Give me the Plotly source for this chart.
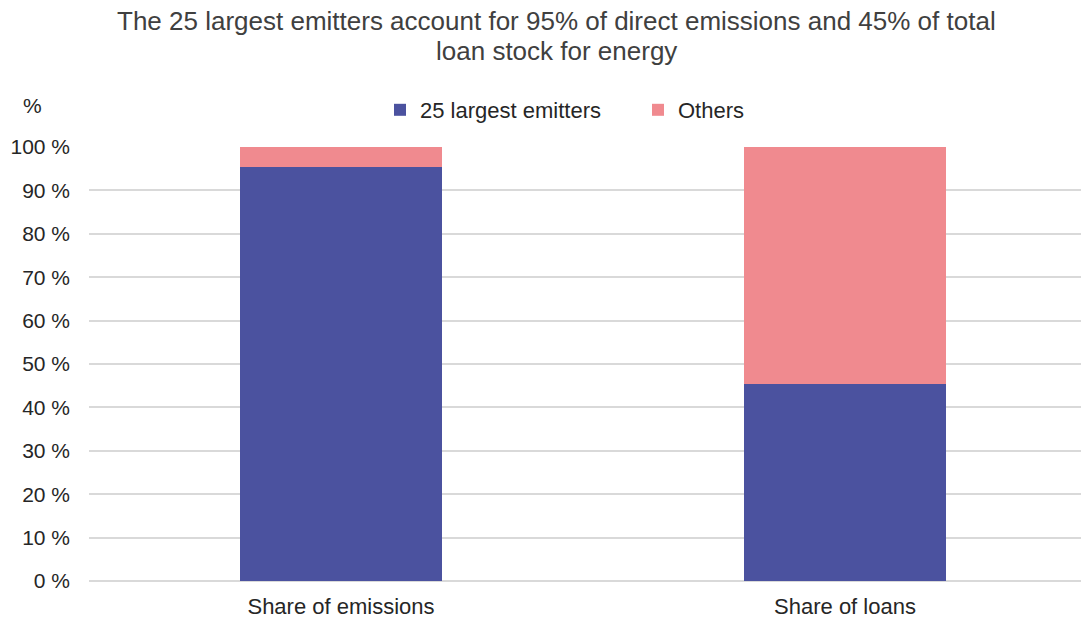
import plotly.graph_objects as go

categories = ["Share of emissions", "Share of loans"]
largest = [95.3, 45.5]
others = [4.7, 54.5]
tick_vals = [0, 10, 20, 30, 40, 50, 60, 70, 80, 90, 100]
tick_text = [f"{v} %" for v in tick_vals]
title_lines = ["The 25 largest emitters account for 95% of direct emissions and 45% of total",
               "loan stock for energy"]

BLUE = "#4B529F"
PINK = "#F08A8F"
FONT = "Liberation Sans, Arial, sans-serif"

W, H = 1081, 611
L, T, B = 81, 139, 38
PH = H - T - B

def py(Y):
    return (H - B - Y) / PH

fig = go.Figure()
fig.add_trace(go.Bar(x=categories, y=largest, name="25 largest emitters",
                     marker=dict(color=BLUE, line=dict(width=0)), width=0.4))
fig.add_trace(go.Bar(x=categories, y=others, name="Others",
                     marker=dict(color=PINK, line=dict(width=0)), width=0.4))

fig.update_layout(
    barmode="stack",
    width=W, height=H,
    margin=dict(l=L, r=0, t=T, b=B, pad=0),
    paper_bgcolor="white", plot_bgcolor="white",
    font=dict(family=FONT, size=21, color="#404040"),
    legend=dict(orientation="h", x=(372 - L) / 1000, xanchor="left",
                y=1 - 102 / H, yref="container", yanchor="middle",
                font=dict(size=22, color="#262626"),
                entrywidth=213, entrywidthmode="pixels", traceorder="normal"),
    showlegend=True,
)
fig.update_xaxes(range=[-0.5, -0.5 + 1000 / 504], showgrid=False, showline=False,
                 ticks="", ticklabelstandoff=10, tickfont=dict(size=22, color="#262626"))
fig.update_yaxes(range=[0, 100], tickvals=tick_vals, ticktext=tick_text,
                 showgrid=True, gridcolor="#D9D9D9", gridwidth=1.5,
                 zeroline=True, zerolinecolor="#D9D9D9", zerolinewidth=1.5,
                 ticks="", ticklabelstandoff=18,
                 tickfont=dict(size=21, color="#262626"))
for line, Y in zip(title_lines, [13, 43]):
    fig.add_annotation(text=line, xref="paper", yref="paper", x=(556 - 8 - L) / 1000, y=py(Y),
                       xanchor="center", yanchor="middle", showarrow=False,
                       font=dict(size=26, color="#404040"))
fig.add_annotation(text="%", xref="paper", yref="paper", x=(24 - L) / 1000, y=py(97),
                   xanchor="center", yanchor="middle", showarrow=False,
                   font=dict(size=21, color="#262626"))

fig.write_html("out.html")
